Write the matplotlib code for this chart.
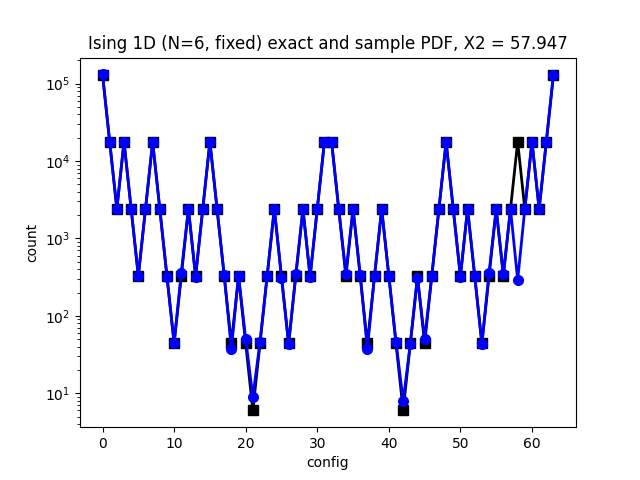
import matplotlib
matplotlib.use('Agg')
import matplotlib.pyplot as plt

config = list(range(64))

exact = [131000, 17700, 2400, 17700, 2400, 325, 2400, 17700,
         2400, 325, 44, 325, 2400, 325, 2400, 17700,
         2400, 325, 44, 325, 44, 6, 44, 325,
         2400, 325, 44, 325, 2400, 325, 2400, 17700,
         17700, 2400, 325, 2400, 325, 44, 325, 2400,
         325, 44, 6, 44, 325, 44, 325, 2400,
         17700, 2400, 325, 2400, 325, 44, 325, 2400,
         325, 2400, 17700, 2400, 17700, 2400, 17700, 131000]

sample = [131500, 17600, 2420, 17800, 2380, 330, 2410, 17650,
          2390, 320, 45, 360, 2420, 320, 2400, 17750,
          2410, 335, 37, 330, 50, 9, 46, 330,
          2430, 310, 43, 345, 2380, 315, 2410, 17600,
          17800, 2390, 350, 2420, 340, 37, 330, 2380,
          330, 46, 8, 43, 310, 50, 330, 2420,
          17650, 2400, 320, 2410, 330, 43, 360, 2390,
          350, 2400, 290, 2410, 17800, 2380, 17700, 130500]

fig = plt.figure(figsize=(6.4, 4.8), dpi=100)
plt.semilogy(config, exact, 'ks-', linewidth=2, markersize=7)
plt.semilogy(config, sample, 'bo-', linewidth=2, markersize=7)
plt.title('Ising 1D (N=6, fixed) exact and sample PDF, X2 = 57.947')
plt.xlabel('config')
plt.ylabel('count')
fig.savefig('out.png')
